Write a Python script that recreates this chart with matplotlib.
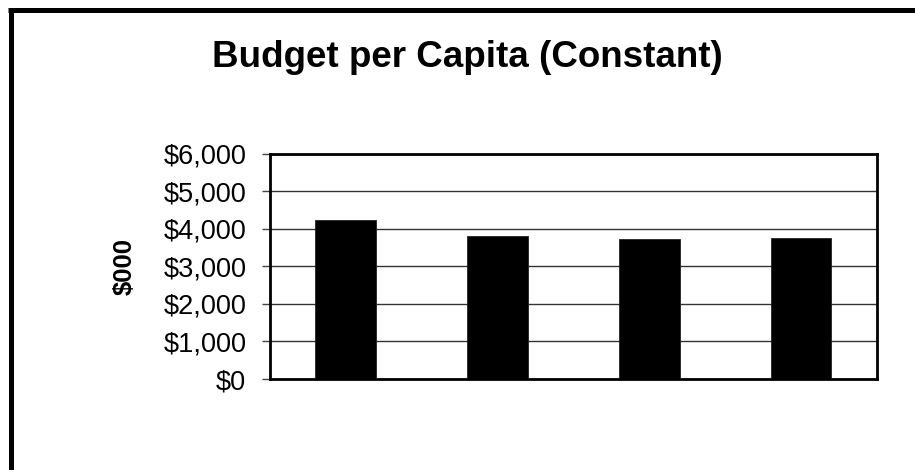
import matplotlib
matplotlib.use('Agg')
import matplotlib.pyplot as plt
from matplotlib.lines import Line2D
from matplotlib.ticker import FuncFormatter

# budget per capita, constant dollars ($000)
periods = ['P1', 'P2', 'P3', 'P4']
budget = [4240, 3795, 3715, 3760]
yticks = [0, 1000, 2000, 3000, 4000, 5000, 6000]

plt.rcParams['font.family'] = ['Liberation Sans', 'DejaVu Sans']

fig = plt.figure(figsize=(9.15, 4.7), dpi=100)
ax = fig.add_axes([0.295, 0.1936, 0.6635, 0.4798])

ax.bar(range(len(budget)), budget, width=0.4, color='black', edgecolor='#222222', linewidth=0.6, zorder=3)

ax.set_xlim(-0.5, len(budget) - 0.5)
ax.set_ylim(0, 6000)
ax.set_yticks(yticks)
ax.yaxis.set_major_formatter(FuncFormatter(lambda v, p: '${:,.0f}'.format(v)))
ax.set_xticks([])
ax.tick_params(axis='y', labelsize=19.5, length=6, width=1, pad=11, color='#444444')
ax.grid(axis='y', color='#333333', linewidth=1, zorder=0)

for s in ax.spines.values():
    s.set_linewidth(2)
    s.set_color('black')

ax.set_ylabel('$000', fontsize=18.5, fontweight='bold')
ax.yaxis.set_label_coords(-0.219, 0.5)

fig.text(0.511, 0.878, 'Budget per Capita (Constant)', ha='center', va='center',
         fontsize=26.5, fontweight='bold')

# chart frame, top and left edges
fig.add_artist(Line2D([8 / 915, 1.0], [1 - 9.8 / 470, 1 - 9.8 / 470], color='black',
                      linewidth=3.6, solid_capstyle='butt'))
fig.add_artist(Line2D([10.5 / 915, 10.5 / 915], [0.0, 1 - 7.5 / 470], color='black',
                      linewidth=3.6, solid_capstyle='butt'))

fig.savefig('out.png', dpi=100)
